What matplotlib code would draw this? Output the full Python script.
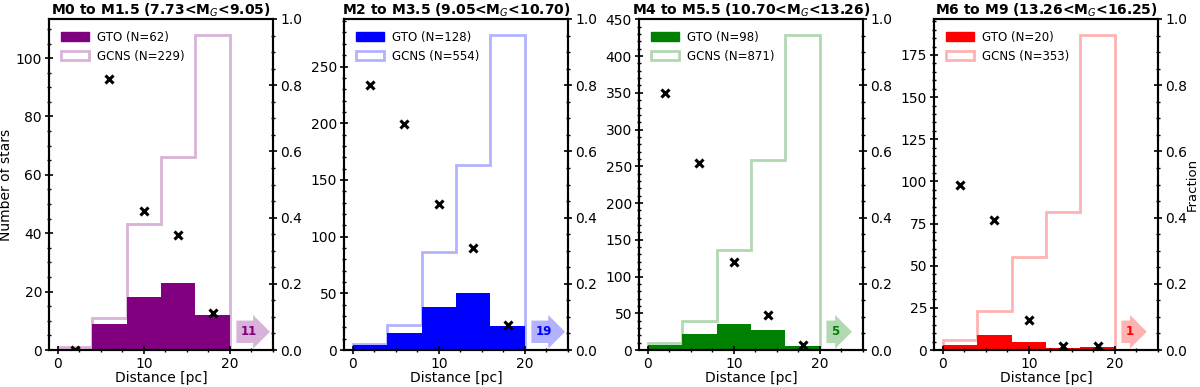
import numpy as np
import matplotlib
matplotlib.use("Agg")
import matplotlib.pyplot as plt
from matplotlib.ticker import MultipleLocator, AutoMinorLocator, FormatStrFormatter
from matplotlib.patches import Patch

edges = [0, 4, 8, 12, 16, 20]
titles = [r"M0 to M1.5 (7.73<M$_G$<9.05)",
          r"M2 to M3.5 (9.05<M$_G$<10.70)",
          r"M4 to M5.5 (10.70<M$_G$<13.26)",
          r"M6 to M9 (13.26<M$_G$<16.25)"]
colors = ["purple", "blue", "green", "red"]
gto_counts = [[0, 9, 18, 23, 12],
              [4, 15, 38, 50, 21],
              [7, 22, 36, 27, 6],
              [3, 9, 5, 1, 2]]
gcns_counts = [[1, 11, 43, 66, 108],
               [5, 22, 86, 163, 278],
               [9, 39, 136, 258, 429],
               [6, 23, 55, 82, 187]]
beyond = [11, 19, 5, 1]
ystep = [20, 50, 50, 25]

plt.rcParams['font.family'] = ['DejaVu Sans']
fig = plt.figure(figsize=(12, 3.87), dpi=100)

left0 = 49 / 1200
step = 295 / 1200
w = 224 / 1200
bottom = 37 / 387
h = 331 / 387
FS = 10


def style(a):
    a.tick_params(which='both', direction='inout', labelsize=FS)
    a.tick_params(which='major', length=6, width=1.2, pad=2)
    a.tick_params(which='minor', length=3, width=1)
    for s in a.spines.values():
        s.set_linewidth(1.5)


for i in range(4):
    ax = fig.add_axes([left0 + i * step, bottom, w, h])
    gto = np.array(gto_counts[i])
    gcns = np.array(gcns_counts[i])
    c = colors[i]
    ax.stairs(gto, edges, fill=True, color=c)
    ax.stairs(gcns, edges, fill=False, color=c, alpha=0.3, linewidth=2)
    ax.set_xlim(-1, 25)
    ax.set_ylim(0, gcns.max() * 1.05)
    ax.yaxis.set_major_locator(MultipleLocator(ystep[i]))
    ax.yaxis.set_minor_locator(AutoMinorLocator())
    ax.xaxis.set_major_locator(MultipleLocator(10))
    ax.xaxis.set_minor_locator(AutoMinorLocator(4))
    style(ax)
    ax.set_xlabel("Distance [pc]", fontsize=FS, labelpad=0)
    if i == 0:
        ax.set_ylabel("Number of stars", fontsize=FS, labelpad=2)
    ax.set_title(titles[i], fontsize=10, fontweight='bold', pad=3)
    handles = [Patch(facecolor=c, edgecolor=c, label=f"GTO (N={gto.sum()})"),
               Patch(facecolor='none', edgecolor=matplotlib.colors.to_rgba(c, 0.3),
                     linewidth=2, label=f"GCNS (N={gcns.sum()})")]
    ax.legend(handles=handles, loc='upper left', frameon=False, fontsize=8.5,
              handlelength=2.4, handleheight=0.8, handletextpad=0.7,
              borderaxespad=0.5, borderpad=0.5, labelspacing=0.5)

    centers = (np.array(edges[:-1]) + np.array(edges[1:])) / 2
    frac = gto / gcns
    ax2 = ax.twinx()
    ax2.plot(centers, frac, 'x', color='black', markersize=5.5, markeredgewidth=2.2)
    ax2.set_ylim(0, 1)
    ax2.yaxis.set_major_locator(MultipleLocator(0.2))
    ax2.yaxis.set_minor_locator(AutoMinorLocator())
    ax2.yaxis.set_major_formatter(FormatStrFormatter('%.1f'))
    style(ax2)
    if i == 3:
        ax2.set_ylabel("Fraction", fontsize=9.5)
        ax2.yaxis.label.set_verticalalignment('center')
        ax2.yaxis.set_label_coords(1.155, 0.5)

    ax.text(21.3, 0.055 * ax.get_ylim()[1], str(beyond[i]), color=c,
            fontsize=8.5, fontweight='bold', ha='left', va='center',
            bbox=dict(boxstyle='rarrow,pad=0.4', fc=c, ec='none', alpha=0.3),
            zorder=5)

fig.savefig("out.png", dpi=100)
